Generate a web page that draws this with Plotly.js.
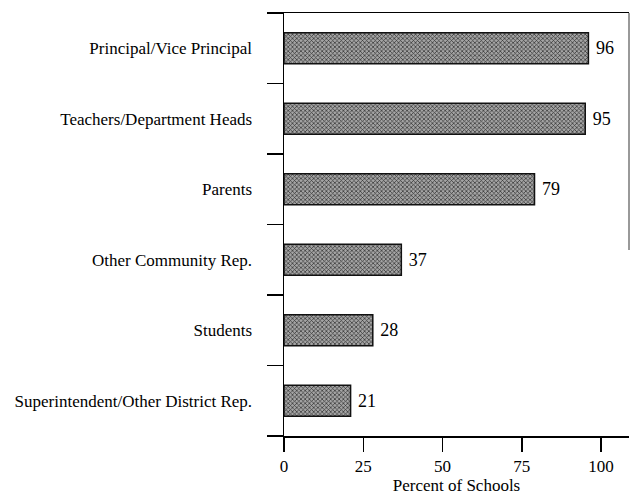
<!DOCTYPE html>
<html>
<head>
<meta charset="utf-8">
<script src="https://cdn.plot.ly/plotly-3.0.1.min.js"></script>
<style>html,body{margin:0;padding:0;background:#fff;}#chart{width:630px;height:497px;}</style>
</head>
<body>
<div id="chart"></div>
<script>
const categories = [
  "Principal/Vice Principal",
  "Teachers/Department Heads",
  "Parents",
  "Other Community Rep.",
  "Students",
  "Superintendent/Other District Rep."
];
const percentValues = [96, 95, 79, 37, 28, 21];
const valueLabels = ["96", "95", "79", "37", "28", "21"];
const xTickValues = [0, 25, 50, 75, 100];
const xTitle = "Percent of Schools";

const FONT = "Liberation Serif, Times New Roman, serif";

// category boundaries (between bars), used for the left-side tick marks
const boundaries = categories.map((_, i) => i - 0.5).concat([categories.length - 0.5]);

const barTrace = {
  type: "bar",
  orientation: "h",
  y: categories,
  x: percentValues,
  text: valueLabels,
  texttemplate: "\u00a0%{text}",
  textposition: "outside",
  cliponaxis: false,
  textfont: {family: FONT, size: 18, color: "#000"},
  width: 0.44,
  marker: {
    color: "#8a8a8a",
    line: {color: "#111", width: 1.5},
    pattern: {shape: "x", fgcolor: "#2e2e2e", bgcolor: "#a4a4a4", size: 3, solidity: 0.4}
  },
  hoverinfo: "skip"
};

const boundaryAxisTrace = {
  type: "scatter",
  mode: "markers",
  x: [],
  y: [],
  yaxis: "y2",
  hoverinfo: "skip",
  showlegend: false
};

const layout = {
  width: 630,
  height: 497,
  margin: {l: 284, r: 1, t: 13, b: 61},
  paper_bgcolor: "#fff",
  plot_bgcolor: "#fff",
  showlegend: false,
  font: {family: FONT, size: 17, color: "#000"},
  xaxis: {
    range: [0, 108.8],
    tickvals: xTickValues,
    ticktext: xTickValues.map(String),
    ticks: "outside",
    ticklen: 14,
    tickwidth: 1.5,
    tickcolor: "#000",
    showline: true,
    linecolor: "#000",
    linewidth: 1.5,
    mirror: true,
    showgrid: false,
    zeroline: false,
    tickfont: {family: FONT, size: 17, color: "#000"},
    title: {text: xTitle, font: {family: FONT, size: 17, color: "#000"}, standoff: 3}
  },
  yaxis: {
    type: "category",
    autorange: "reversed",
    ticks: "",
    showline: true,
    linecolor: "#000",
    linewidth: 1.5,
    showgrid: false,
    zeroline: false,
    ticklabelstandoff: 27,
    tickfont: {family: FONT, size: 17, color: "#000"}
  },
  yaxis2: {
    overlaying: "y",
    side: "left",
    type: "linear",
    range: [categories.length - 0.5, -0.5],
    tickvals: boundaries,
    showticklabels: false,
    ticks: "outside",
    ticklen: 16,
    tickwidth: 1.5,
    tickcolor: "#000",
    showline: false,
    showgrid: false,
    zeroline: false
  },
  shapes: [
    {type: "line", xref: "paper", yref: "paper", x0: 1, x1: 1, y0: 1, y1: 0.44,
     line: {color: "#555", width: 1.2}}
  ]
};

Plotly.newPlot("chart", [barTrace, boundaryAxisTrace], layout, {displayModeBar: false, staticPlot: true});
</script>
</body>
</html>
